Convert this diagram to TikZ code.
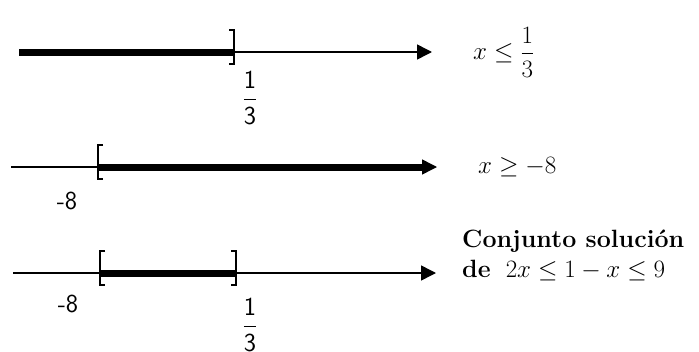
\documentclass[tikz,border=0pt]{standalone}
\usepackage{fix-cm}
\usepackage{amsmath,amssymb}
\usepackage{tikz}
\usetikzlibrary{arrows.meta}

\begin{document}
\begin{tikzpicture}[x=1pt,y=-1pt,>={Triangle[length=15pt,width=15pt]},
  eje/.style={line width=1.5pt},
  sol/.style={line width=7pt},
  corch/.style={line width=2pt},
  num/.style={font=\fontsize{26}{30}\selectfont\sffamily,inner sep=0pt},
  rlbl/.style={font=\fontsize{25}{30}\selectfont,anchor=west,inner sep=0pt}]
  \useasboundingbox (0,0) rectangle (699,351);
  % ---- x <= 1/3 ----
  \coordinate (a0) at (19,52);
  \coordinate (a1) at (234,52);
  \coordinate (a2) at (432,52);
  \draw[eje,->] (a1) -- (a2);
  \draw[sol] (a0) -- (a1);
  \draw[corch] (a1) ++(-5,-22) -- ++(5,0) -- ++(0,34) -- ++(-5,0);
  \node[num] (t1) at (250,98) {$\dfrac{\mathsf{1}}{\mathsf{3}}$};
  \node[rlbl] (r1) at (473,52) {$x\le\dfrac{1}{3}$};
  % ---- x >= -8 ----
  \coordinate (b0) at (11,167);
  \coordinate (b1) at (98,167);
  \coordinate (b2) at (437,167);
  \coordinate (b3) at (422,167);
  \draw[eje,->] (b0) -- (b2);
  \draw[sol] (b1) -- (b3);
  \draw[corch] (b1) ++(5,-22) -- ++(-5,0) -- ++(0,34) -- ++(5,0);
  \node[num] (m2) at (67,201) {-8};
  \node[rlbl] (r2) at (478,167) {$x\ge-8$};
  % ---- solution set ----
  \coordinate (c0) at (13,273);
  \coordinate (c1) at (100,273);
  \coordinate (c2) at (236,273);
  \coordinate (c3) at (436,273);
  \draw[eje,->] (c0) -- (c3);
  \draw[sol] (c1) -- (c2);
  \draw[corch] (c1) ++(5,-22) -- ++(-5,0) -- ++(0,34) -- ++(5,0);
  \draw[corch] (c2) ++(-5,-22) -- ++(5,0) -- ++(0,34) -- ++(-5,0);
  \node[num] (m3) at (68,304) {-8};
  \node[num] (t3) at (250,325) {$\dfrac{\mathsf{1}}{\mathsf{3}}$};
  \node[rlbl,anchor=base west] (r3) at (462,247) {\textbf{Conjunto solución}};
  \node[rlbl,anchor=base west] (r4) at (462,277) {\textbf{de}\ \ $2x\le 1-x\le 9$};
\end{tikzpicture}
\end{document}
